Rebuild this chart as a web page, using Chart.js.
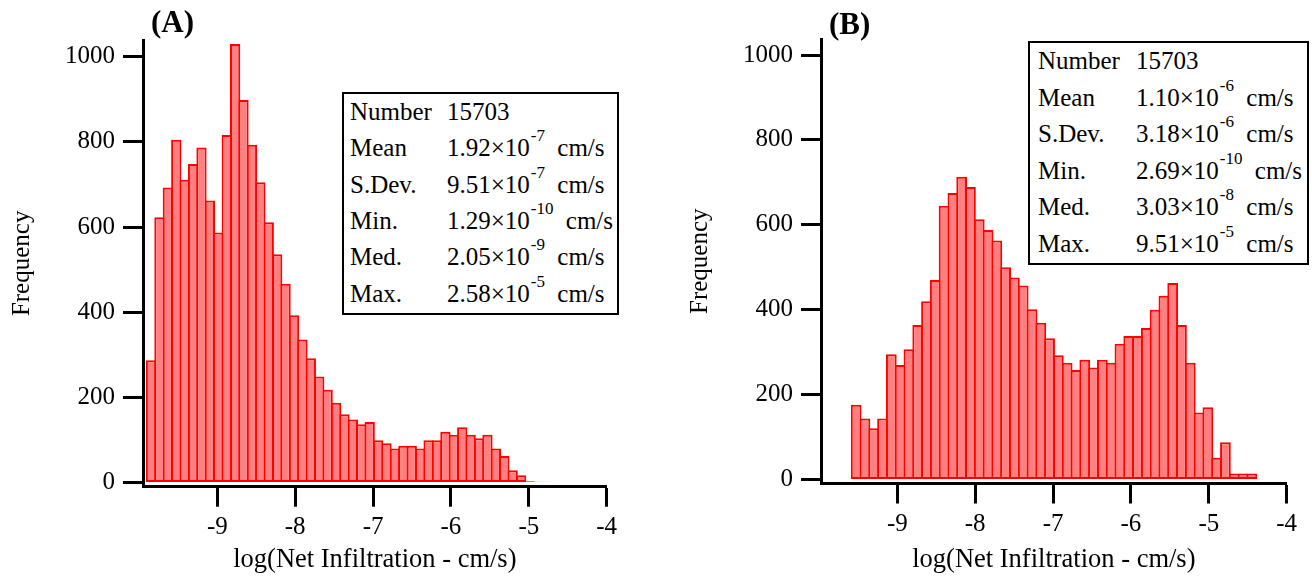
<!DOCTYPE html>
<html>
<head>
<meta charset="utf-8">
<script src="https://cdn.jsdelivr.net/npm/chart.js@4.4.0/dist/chart.umd.min.js"></script>
<style>
    body { margin: 0; background: #fff; width: 1312px; height: 576px; position: relative; overflow: hidden; font-family: "Liberation Serif", "Times New Roman", serif; color: #000; }
    canvas { position: absolute; top: 0; }
    #chartA { left: 0; }
    #chartB { left: 678px; }
    .panel { position: absolute; font-size: 31px; line-height: 31px; font-weight: bold; }
    .stats { position: absolute; box-sizing: border-box; border: 2.5px solid #000; background: #fff; font-size: 25px; }
    .stats span { position: absolute; white-space: nowrap; }
    .stats sup { font-size: 17px; vertical-align: baseline; position: relative; top: -15px; margin-left: 1px; margin-right: 6px; }
</style>
</head>
<body>
<canvas id="chartA" width="656" height="576"></canvas>
<canvas id="chartB" width="634" height="576"></canvas>
<div class="panel" style="left:151px; top:6px;">(A)</div>
<div class="panel" style="left:829px; top:8px;">(B)</div>
<div class="stats" id="statsA" style="left:342px; top:92px; width:277px; height:223px;"></div>
<div class="stats" id="statsB" style="left:1028px; top:41px; width:281px; height:224px;"></div>
<script>
const xTicks = [-9, -8, -7, -6, -5, -4];
const yTicks = [0, 200, 400, 600, 800, 1000];

// histogram A: 48 bins starting at log = -9.905
const binStartA = -9.905, binWidthA = 0.108;
const countsA = [287, 623, 693, 805, 711, 748, 787, 662, 587, 816,
                 1030, 898, 793, 705, 611, 536, 467, 393, 336, 292,
                 249, 218, 187, 160, 148, 137, 142, 99, 92, 80,
                 86, 86, 80, 99, 99, 119, 112, 130, 112, 104,
                 112, 80, 62, 29, 17, 3, 2, 2];

// histogram B: 47 bins starting at log = -9.585
const binStartB = -9.585, binWidthB = 0.1129;
const countsB = [176, 144, 121, 144, 295, 270, 307, 364, 420, 470,
                 645, 675, 713, 689, 613, 588, 563, 500, 476, 457,
                 401, 369, 333, 293, 275, 258, 282, 264, 282, 275,
                 320, 338, 338, 357, 400, 433, 463, 364, 275, 158,
                 170, 51, 88, 14, 14, 14, 1];

const statNames = ['Number', 'Mean', 'S.Dev.', 'Min.', 'Med.', 'Max.'];
const numberA = '15703', numberB = '15703';
const mantA = ['1.92', '9.51', '1.29', '2.05', '2.58'];
const expA = ['-7', '-7', '-10', '-9', '-5'];
const mantB = ['1.10', '3.18', '2.69', '3.03', '9.51'];
const expB = ['-6', '-6', '-10', '-8', '-5'];

const serif = "'Liberation Serif', 'Times New Roman', serif";

function makeChart(id, counts, binStart, binWidth, xMin, yMin, yMax, padTop, padRight, xHeight) {
    const points = counts.map((c, i) => ({ x: binStart + (i + 0.5) * binWidth, y: c }));
    return new Chart(document.getElementById(id), {
        type: 'bar',
        data: {
            datasets: [{
                data: points,
                backgroundColor: '#ff8080',
                borderColor: '#ff0000',
                borderWidth: 2,
                borderSkipped: false,
                barPercentage: 1.22,
                categoryPercentage: 1.0
            }]
        },
        options: {
            responsive: false,
            animation: false,
            layout: { padding: { top: padTop, right: padRight, bottom: 0, left: 0 } },
            plugins: { legend: { display: false }, tooltip: { enabled: false } },
            scales: {
                x: {
                    type: 'linear',
                    min: xMin, max: -4,
                    offset: false,
                    afterBuildTicks: s => { s.ticks = xTicks.map(v => ({ value: v })); },
                    afterFit: s => { s.height = xHeight; },
                    grid: { offset: false, drawOnChartArea: false, drawTicks: true, tickLength: 20, tickWidth: 3, tickColor: '#000' },
                    border: { display: true, color: '#000', width: 3 },
                    ticks: { color: '#000', padding: 6, maxRotation: 0, font: { family: serif, size: 25 }, callback: v => String(v) },
                    title: { display: true, text: 'log(Net Infiltration - cm/s)', color: '#000', padding: { top: 0, bottom: 0 }, font: { family: serif, size: 26.5 } }
                },
                y: {
                    min: yMin, max: yMax,
                    afterBuildTicks: s => { s.ticks = yTicks.map(v => ({ value: v })); },
                    afterFit: s => { s.width = 143; },
                    grid: { drawOnChartArea: false, drawTicks: true, tickLength: 20, tickWidth: 3, tickColor: '#000' },
                    border: { display: true, color: '#000', width: 3 },
                    ticks: { color: '#000', padding: 8, font: { family: serif, size: 25 }, callback: v => String(v) },
                    title: { display: true, text: 'Frequency', color: '#000', padding: { top: 7, bottom: 0 }, font: { family: serif, size: 25 } }
                }
            }
        }
    });
}

makeChart('chartA', countsA, binStartA, binWidthA, -9.954, -9.9, 1039.2, 40, 49.3, 89.3);
makeChart('chartB', countsB, binStartB, binWidthB, -9.98, -9.4, 1037.7, 39, 25.3, 92.5);

function fillStats(id, number, mant, exps, labelLeft, valueLeft, rowH) {
    const box = document.getElementById(id);
    let html = '';
    statNames.forEach((name, i) => {
        const top = (i * rowH).toFixed(1);
        const val = i === 0 ? number : `${mant[i - 1]}×10<sup>${exps[i - 1]}</sup> cm/s`;
        html += `<span style="left:${labelLeft}px; top:${top}px; line-height:${rowH}px;">${name}</span>`;
        html += `<span style="left:${valueLeft}px; top:${top}px; line-height:${rowH}px;">${val}</span>`;
    });
    box.innerHTML = html;
}

fillStats('statsA', numberA, mantA, expA, 6, 103, 36.3);
fillStats('statsB', numberB, mantB, expB, 8, 106, 36.5);
</script>
</body>
</html>
